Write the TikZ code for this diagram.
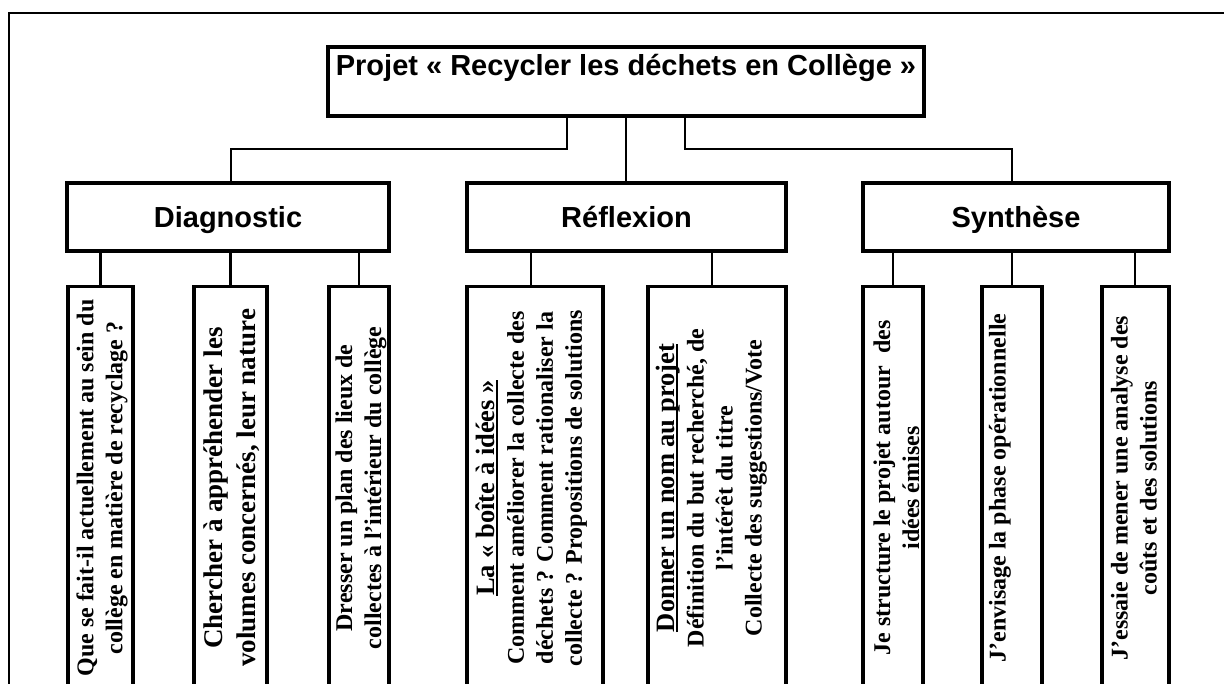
\documentclass[tikz,border=0pt]{standalone}
\usepackage{fontspec}
\setmainfont{Liberation Serif}
\newfontfamily\hsans{Liberation Sans}
\newcommand\myul[1]{\setbox0\hbox{#1}\rlap{\rule[-3.5pt]{\wd0}{2.2pt}}\box0}
\begin{document}
\begin{tikzpicture}[x=1pt,y=-1pt,
  hbox/.style={draw, line width=3.1pt, inner sep=0pt, text height=21pt, text depth=0pt,
    font=\hsans\bfseries\fontsize{29}{34}\selectfont},
  leafbox/.style={draw, line width=3.1pt, inner sep=0pt, minimum height=440pt, anchor=north},
  leaftext/.style={rotate=90, align=center, inner sep=0pt, font=\bfseries\fontsize{24}{29}\selectfont},
  bigleaf/.style={leaftext, font=\bfseries\fontsize{27}{32.5}\selectfont},
  conn/.style={line width=2.3pt},
  frame/.style={line width=2.6pt}]
\useasboundingbox (0,0) rectangle (1224,684);
\clip (0,0) rectangle (1224,684);
% frame
\draw[frame] (9,700) -- (9,13) -- (1240,13);
% top box
\node[draw, line width=3.1pt, inner sep=0pt, minimum width=596pt, minimum height=69pt] (top) at (626,81.5) {};
\node[anchor=base, inner sep=0pt, font=\hsans\bfseries\fontsize{29}{34}\selectfont] (ttl) at (626,75.5) {Projet « Recycler les déchets en Collège »};
% level 2
\node[hbox, minimum width=322pt, minimum height=68pt] (diag) at (228,217) {Diagnostic};
\node[hbox, minimum width=319pt, minimum height=68pt] (refl) at (626.5,217) {Réflexion};
\node[hbox, minimum width=306pt, minimum height=68pt] (synt) at (1016,217) {Synthèse};
% connectors level 1 -> 2
\draw[conn] (567,0 |- top.south) -- (567,149) -| (231,0 |- diag.north);
\draw[conn] (top.south) -- (top.south |- refl.north);
\draw[conn] (685,0 |- top.south) -- (685,149) -| (1012,0 |- synt.north);
% leaves
\node[leafbox, minimum width=65pt] (d1) at (100.5,285) {};
\node[leafbox, minimum width=73pt] (d2) at (230.5,285) {};
\node[leafbox, minimum width=60pt] (d3) at (359,285) {};
\node[leafbox, minimum width=136pt] (r1) at (535,285) {};
\node[leafbox, minimum width=138pt] (r2) at (717,285) {};
\node[leafbox, minimum width=60pt] (s1) at (893,285) {};
\node[leafbox, minimum width=60pt] (s2) at (1012,285) {};
\node[leafbox, minimum width=67pt] (s3) at (1135.5,285) {};
% connectors level 2 -> 3
\draw[conn] (diag.south -| d1.north) -- (d1.north);
\draw[conn] (diag.south -| d2.north) -- (d2.north);
\draw[conn] (diag.south -| d3.north) -- (d3.north);
\draw[conn] (531,0 |- refl.south) -- (531,0 |- r1.north);
\draw[conn] (712,0 |- refl.south) -- (712,0 |- r2.north);
\draw[conn] (synt.south -| s1.north) -- (s1.north);
\draw[conn] (synt.south -| s2.north) -- (s2.north);
\draw[conn] (1135,0 |- synt.south) -- (1135,0 |- s3.north);
% leaf texts
\node[leaftext] (td1) at (102,488) {Que se fait-il actuellement au sein du\\ collège en matière de recyclage ?};
\node[bigleaf] (td2) at (231.5,488) {Chercher à appréhender les\\ volumes concernés, leur nature};
\node[leaftext] (td3) at (361,488) {Dresser un plan des lieux de\\ collectes à l’intérieur du collège};
\node[leaftext] (tr1) at (531.5,488) {{\fontsize{26.5}{31}\selectfont\myul{La « boîte à idées »}}\\ Comment améliorer la collecte des\\ déchets ? Comment rationaliser la\\ collecte ? Propositions de solutions};
\node[leaftext] (tr2) at (711.5,488) {{\fontsize{26.5}{31}\selectfont\myul{Donner un nom au projet}}\\ Définition du but recherché, de\\ l’intérêt du titre\\ Collecte des suggestions/Vote};
\node[leaftext] (ts1) at (896.5,488) {Je structure le projet autour~ des\\ idées émises};
\node[leaftext] (ts2) at (1000,488) {J’envisage la phase opérationnelle};
\node[leaftext] (ts3) at (1134,488) {J’essaie de mener une analyse des\\ coûts et des solutions};
\end{tikzpicture}
\end{document}
